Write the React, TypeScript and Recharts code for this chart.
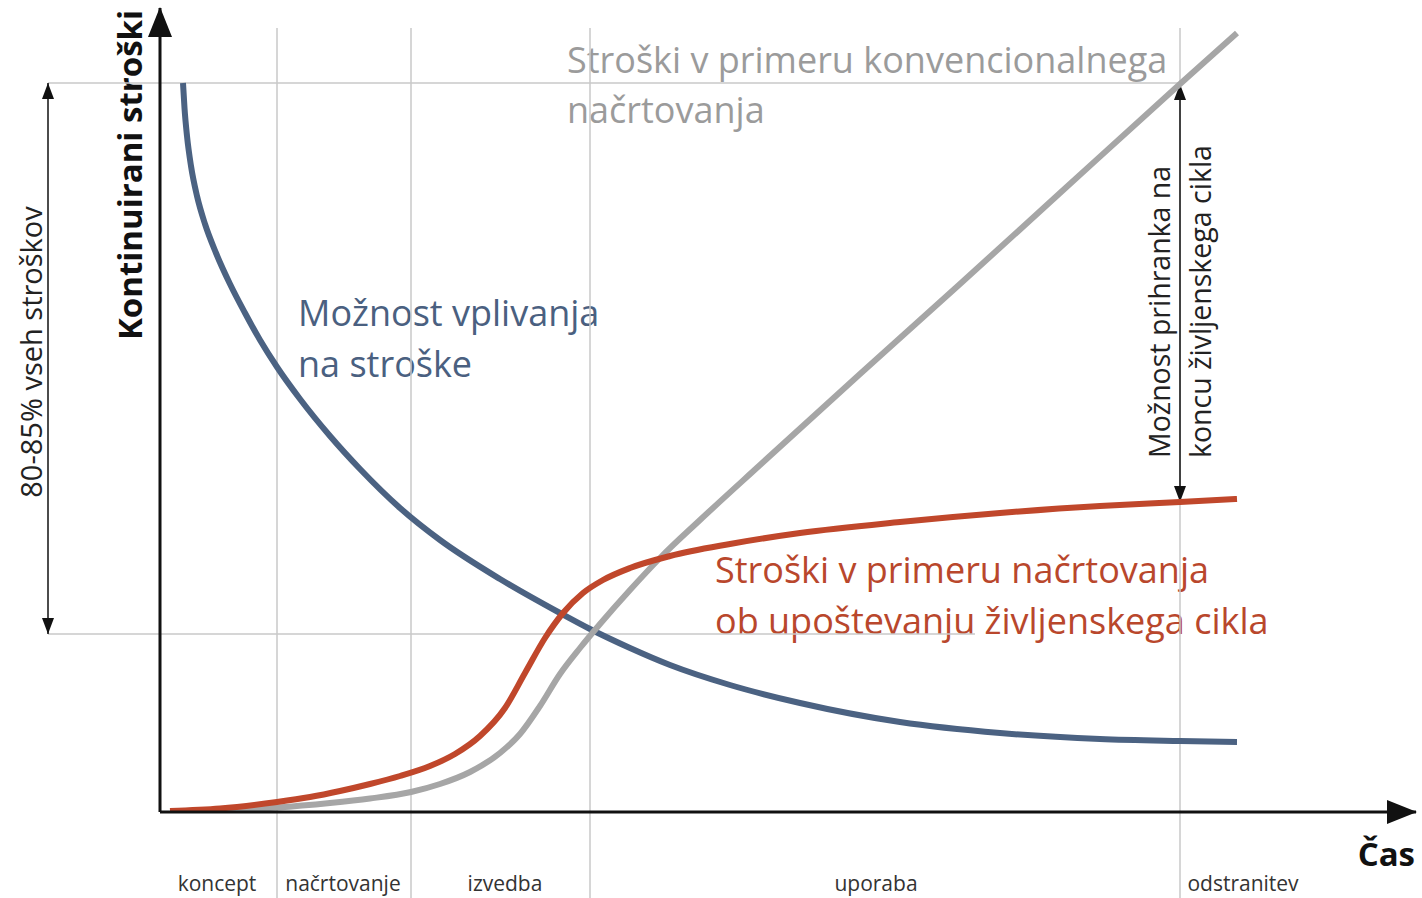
import { LineChart, Line, XAxis, YAxis, ReferenceLine } from 'recharts';

// x = time (1 unit = 10px), y = cost (1 unit = 10px)
const influence = [
  { x: 2.3, y: 72.9 }, { x: 2.45, y: 70.4 }, { x: 2.7, y: 67.6 }, { x: 3.1, y: 64.6 },
  { x: 3.7, y: 61.6 }, { x: 4.5, y: 58.8 }, { x: 5.6, y: 55.9 }, { x: 7.0, y: 52.8 },
  { x: 8.5, y: 49.9 }, { x: 10.0, y: 47.2 }, { x: 11.7, y: 44.5 }, { x: 14.0, y: 41.3 },
  { x: 17.0, y: 37.6 }, { x: 20.0, y: 34.3 }, { x: 24.0, y: 30.4 }, { x: 28.0, y: 27.2 },
  { x: 34.0, y: 23.3 }, { x: 40.0, y: 19.9 }, { x: 43.0, y: 18.3 }, { x: 47.0, y: 16.4 },
  { x: 51.0, y: 14.7 }, { x: 57.0, y: 12.7 }, { x: 64.0, y: 10.9 }, { x: 74.0, y: 9.0 },
  { x: 84.0, y: 7.9 }, { x: 94.0, y: 7.3 }, { x: 102.0, y: 7.1 }, { x: 107.7, y: 7.0 },
];

const conventional = [
  { x: 1.0, y: 0.1 }, { x: 6.0, y: 0.2 }, { x: 11.7, y: 0.45 }, { x: 17.0, y: 0.9 },
  { x: 21.0, y: 1.35 }, { x: 25.1, y: 2.0 }, { x: 28.0, y: 2.8 }, { x: 31.0, y: 4.0 },
  { x: 34.0, y: 5.9 }, { x: 36.0, y: 7.8 }, { x: 38.0, y: 10.6 }, { x: 40.0, y: 13.8 },
  { x: 42.0, y: 16.4 }, { x: 44.0, y: 18.8 }, { x: 47.0, y: 22.2 }, { x: 50.0, y: 25.4 },
  { x: 54.0, y: 29.2 }, { x: 60.0, y: 34.7 }, { x: 70.0, y: 43.8 }, { x: 80.0, y: 52.8 },
  { x: 90.0, y: 61.9 }, { x: 102.0, y: 72.8 }, { x: 107.7, y: 77.9 },
];

const lifecycle = [
  { x: 1.0, y: 0.1 }, { x: 6.0, y: 0.35 }, { x: 11.7, y: 1.0 }, { x: 15.0, y: 1.5 },
  { x: 18.0, y: 2.1 }, { x: 21.0, y: 2.8 }, { x: 24.0, y: 3.6 }, { x: 27.0, y: 4.6 },
  { x: 29.5, y: 5.8 }, { x: 32.0, y: 7.6 }, { x: 34.5, y: 10.4 }, { x: 36.5, y: 13.9 },
  { x: 38.5, y: 17.4 }, { x: 40.3, y: 19.9 }, { x: 42.3, y: 21.9 }, { x: 44.3, y: 23.2 },
  { x: 47.0, y: 24.4 }, { x: 51.0, y: 25.6 }, { x: 57.0, y: 26.8 }, { x: 64.0, y: 27.9 },
  { x: 74.0, y: 29.0 }, { x: 84.0, y: 29.9 }, { x: 94.0, y: 30.6 }, { x: 102.0, y: 31.0 },
  { x: 107.7, y: 31.3 },
];

const phaseBounds = [11.7, 25.1, 43.0, 102.0];
const phaseCenters = [5.7, 18.3, 34.5, 71.6, 108.3];
const phaseLabels = ['koncept', 'načrtovanje', 'izvedba', 'uporaba', 'odstranitev'];

const topLevel = 72.9; // 100 % line
const shareLevel = 17.8; // 80-85 % line
const bracketX = -11.2;
const gridTop = 78.4;
const gridBottom = -8.6;
const shareLineEnd = 81.5;

const endX = phaseBounds[3];
const savingsTop = conventional.find((p) => p.x === endX)!.y;
const savingsBottom = lifecycle.find((p) => p.x === endX)!.y;

const font = '"Open Sans", sans-serif';
const grid = '#c9c9c9';

export default function App() {
  return (
    <div style={{ position: 'absolute', left: 0, top: 0, width: 1422, height: 898, background: '#fff' }}>
      <LineChart width={1422} height={898} margin={{ top: 8, right: 6, bottom: 85, left: 159 }}>
        <defs>
          <marker id="axisArrow" markerUnits="userSpaceOnUse" markerWidth={30} markerHeight={24}
            viewBox="0 0 30 24" refX={29} refY={12} orient="auto-start-reverse">
            <path d="M0,0 L30,12 L0,24 Z" fill="#111" />
          </marker>
          <marker id="smallArrow" markerUnits="userSpaceOnUse" markerWidth={16} markerHeight={12}
            viewBox="0 0 16 12" refX={16} refY={6} orient="auto-start-reverse">
            <path d="M0,0 L16,6 L0,12 Z" fill="#111" />
          </marker>
        </defs>

        <XAxis
          type="number"
          dataKey="x"
          domain={[0, 125.6]}
          allowDataOverflow
          height={1}
          ticks={phaseCenters}
          interval={0}
          tickFormatter={(v: number) => phaseLabels[phaseCenters.indexOf(v)] ?? ''}
          tickLine={false}
          tickSize={0}
          tickMargin={64}
          tick={{ fill: '#333', fontSize: 21, fontFamily: font }}
          axisLine={{ stroke: '#111', strokeWidth: 3, markerEnd: 'url(#axisArrow)' }}
        />
        <YAxis
          type="number"
          dataKey="y"
          domain={[0, 80.4]}
          allowDataOverflow
          width={1}
          tick={false}
          tickLine={false}
          axisLine={{ stroke: '#111', strokeWidth: 3, markerStart: 'url(#axisArrow)' }}
        />

        {phaseBounds.map((b) => (
          <ReferenceLine key={b} segment={[{ x: b, y: gridTop }, { x: b, y: gridBottom }]}
            stroke={grid} strokeWidth={1.5} ifOverflow="visible" />
        ))}
        <ReferenceLine segment={[{ x: bracketX, y: topLevel }, { x: endX, y: topLevel }]}
          stroke={grid} strokeWidth={1.5} ifOverflow="visible" />
        <ReferenceLine segment={[{ x: bracketX, y: shareLevel }, { x: shareLineEnd, y: shareLevel }]}
          stroke={grid} strokeWidth={1.5} ifOverflow="visible" />
        <ReferenceLine segment={[{ x: bracketX, y: topLevel }, { x: bracketX, y: shareLevel }]}
          stroke="#111" strokeWidth={1.5} ifOverflow="visible"
          markerStart="url(#smallArrow)" markerEnd="url(#smallArrow)" />
        <ReferenceLine segment={[{ x: endX, y: savingsTop }, { x: endX, y: savingsBottom }]}
          stroke="#111" strokeWidth={1.5} ifOverflow="visible"
          markerStart="url(#smallArrow)" markerEnd="url(#smallArrow)" />

        <Line data={influence} dataKey="y" type="monotone" stroke="#4b6282" strokeWidth={6}
          dot={false} activeDot={false} isAnimationActive={false} />
        <Line data={conventional} dataKey="y" type="monotone" stroke="#a6a6a6" strokeWidth={6}
          dot={false} activeDot={false} isAnimationActive={false} />
        <Line data={lifecycle} dataKey="y" type="monotone" stroke="#c0472b" strokeWidth={6}
          dot={false} activeDot={false} isAnimationActive={false} />

        <g fontFamily={font}>
          <text x={567} y={73} fontSize={36} fill="#9b9b9b">Stroški v primeru konvencionalnega</text>
          <text x={567} y={123} fontSize={36} fill="#9b9b9b">načrtovanja</text>
          <text x={298} y={326} fontSize={36} fill="#4a6080">Možnost vplivanja</text>
          <text x={298} y={377} fontSize={36} fill="#4a6080">na stroške</text>
          <text x={715} y={583} fontSize={36} fill="#b9472c">Stroški v primeru načrtovanja</text>
          <text x={715} y={634} fontSize={36} fill="#b9472c">ob upoštevanju življenskega cikla</text>
          <text x={142} y={175} fontSize={33} fontWeight="bold" fill="#111" textAnchor="middle"
            transform="rotate(-90 142 175)">Kontinuirani stroški</text>
          <text x={42} y={352} fontSize={29} fill="#222" textAnchor="middle"
            transform="rotate(-90 42 352)">80-85% vseh stroškov</text>
          <text x={1170} y={458} fontSize={28.5} fill="#222" transform="rotate(-90 1170 458)">Možnost prihranka na</text>
          <text x={1211} y={458} fontSize={28.5} fill="#222" transform="rotate(-90 1211 458)">koncu življenskega cikla</text>
          <text x={1415} y={866} fontSize={33} fontWeight="bold" fill="#111" textAnchor="end">Čas</text>
        </g>
      </LineChart>
    </div>
  );
}
